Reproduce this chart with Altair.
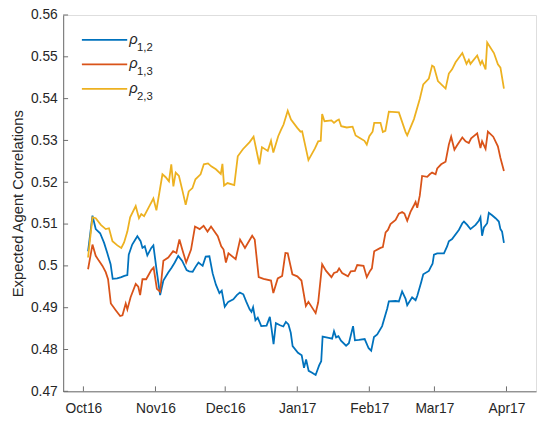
import altair as alt
import pandas as pd

# ---- data (day offset from 2016-10-01, value) ----
b_day = [2.0, 3.9, 5.3, 7.2, 8.9, 10.3, 11.7, 12.6, 14.5, 16.3, 17.6, 18.9, 19.5, 21.0, 23.2, 24.6, 25.4, 26.4, 27.5, 29.2,
         30.1, 31.6, 33.0, 34.4, 36.5, 38.0, 39.3, 40.8, 42.5, 44.4, 45.5, 47.0, 48.5, 49.5, 51.3, 52.6, 54.2, 55.6, 57.0, 58.5,
         59.5, 60.8, 62.3, 64.5, 66.0, 67.3, 68.8, 70.0, 71.5, 72.3, 73.0, 74.0, 75.0, 76.5, 78.8, 80.2, 81.0, 81.8, 82.8, 84.6,
         86.0, 87.1, 88.2, 89.2, 90.0, 92.3, 93.9, 94.9, 95.8, 96.9, 98.2, 99.9, 101.4, 102.3, 102.9, 105.5, 107.0, 107.8, 108.7, 109.7,
         110.8, 113.0, 114.2, 116.0, 116.8, 118.5, 121.0, 122.7, 123.8, 125.0, 126.4, 128.5, 130.7, 131.4, 134.3, 135.7, 137.1, 138.6, 139.3, 141.4,
         142.9, 143.6, 145.3, 146.2, 148.6, 149.3, 150.2, 150.8, 152.2, 155.1, 156.5, 157.2, 158.6, 161.5, 163.0, 163.7, 165.1, 166.5, 168.7, 170.1,
         170.8, 171.5, 172.3, 173.7, 174.4, 175.8, 177.3, 178.7, 179.4, 180.1, 180.9]
b_val = [0.5035, 0.5120, 0.5088, 0.5078, 0.5055, 0.5030, 0.5004, 0.4969, 0.4970, 0.4973, 0.4976, 0.4978, 0.5027, 0.5051, 0.5071, 0.5059, 0.5043, 0.5047, 0.5025, 0.5043,
         0.5049, 0.4985, 0.4930, 0.4965, 0.4984, 0.4996, 0.5008, 0.5024, 0.5012, 0.4990, 0.4987, 0.4986, 0.5000, 0.5008, 0.5000, 0.5022, 0.5023, 0.4982, 0.4955, 0.4935,
         0.4941, 0.4902, 0.4914, 0.4920, 0.4930, 0.4936, 0.4932, 0.4915, 0.4896, 0.4890, 0.4901, 0.4870, 0.4876, 0.4856, 0.4857, 0.4878, 0.4847, 0.4813, 0.4863, 0.4858,
         0.4855, 0.4866, 0.4860, 0.4840, 0.4808, 0.4792, 0.4786, 0.4756, 0.4776, 0.4749, 0.4745, 0.4739, 0.4762, 0.4772, 0.4831, 0.4828, 0.4826, 0.4844, 0.4829, 0.4832,
         0.4821, 0.4809, 0.4815, 0.4856, 0.4822, 0.4823, 0.4825, 0.4803, 0.4797, 0.4830, 0.4836, 0.4856, 0.4898, 0.4915, 0.4916, 0.4915, 0.4939, 0.4921, 0.4906, 0.4925,
         0.4918, 0.4928, 0.4961, 0.4980, 0.4988, 0.4996, 0.5005, 0.5027, 0.5030, 0.5030, 0.5047, 0.5059, 0.5064, 0.5086, 0.5102, 0.5106, 0.5098, 0.5088, 0.5098, 0.5108,
         0.5116, 0.5072, 0.5092, 0.5102, 0.5127, 0.5121, 0.5114, 0.5106, 0.5088, 0.5082, 0.5055]

r_day = [2.0, 3.9, 5.3, 6.7, 8.2, 9.6, 10.6, 11.8, 13.9, 15.8, 16.8, 18.2, 18.9, 20.3, 22.5, 23.6, 24.4, 25.4, 27.0, 29.2,
         30.2, 31.6, 33.0, 34.4, 36.5, 38.6, 40.0, 41.3, 42.5, 44.2, 46.3, 48.0, 50.0, 51.7, 53.4, 54.9, 57.8, 59.3, 60.3, 61.3,
         62.4, 65.5, 67.4, 69.5, 72.6, 73.7, 75.4, 77.5, 80.7, 81.7, 83.6, 85.5, 86.9, 87.9, 89.9, 92.0, 93.8, 95.7, 96.8, 99.9,
         101.0, 102.7, 104.4, 106.7, 107.8, 109.2, 110.0, 111.3, 113.8, 115.0, 116.8, 117.8, 120.5, 121.9, 123.3, 124.1, 125.1, 127.8, 128.8, 130.0,
         131.0, 132.1, 134.3, 135.7, 137.1, 138.1, 139.3, 140.7, 142.2, 142.9, 143.6, 144.7, 145.7, 147.9, 149.0, 150.0, 151.5, 152.2, 153.9, 155.8,
         157.2, 158.2, 159.6, 160.7, 163.0, 164.4, 165.8, 166.8, 169.4, 170.8, 171.5, 173.0, 174.0, 176.3, 178.3, 179.4, 180.9]
r_val = [0.4992, 0.5051, 0.5024, 0.5012, 0.5000, 0.4985, 0.4968, 0.4910, 0.4894, 0.4880, 0.4882, 0.4910, 0.4896, 0.4925, 0.4957, 0.4950, 0.4930, 0.4968, 0.4968, 0.4990,
         0.4996, 0.4945, 0.4938, 0.5012, 0.5020, 0.5035, 0.5031, 0.5063, 0.5040, 0.5008, 0.5039, 0.5094, 0.5088, 0.5096, 0.5082, 0.5094, 0.5071, 0.5047, 0.5039, 0.5008,
         0.5030, 0.5016, 0.5063, 0.5043, 0.5072, 0.5063, 0.4973, 0.4969, 0.4965, 0.4935, 0.4970, 0.4976, 0.5031, 0.5030, 0.4980, 0.4975, 0.4965, 0.4904, 0.4914, 0.4887,
         0.4913, 0.5004, 0.4988, 0.4973, 0.4983, 0.4986, 0.4994, 0.4983, 0.4975, 0.4987, 0.4988, 0.5002, 0.5000, 0.4973, 0.4988, 0.4994, 0.5035, 0.5043, 0.5045, 0.5080,
         0.5086, 0.5100, 0.5110, 0.5125, 0.5129, 0.5125, 0.5108, 0.5129, 0.5145, 0.5153, 0.5139, 0.5168, 0.5215, 0.5213, 0.5219, 0.5223, 0.5219, 0.5233, 0.5243, 0.5249,
         0.5290, 0.5309, 0.5278, 0.5288, 0.5307, 0.5298, 0.5294, 0.5305, 0.5317, 0.5282, 0.5298, 0.5280, 0.5321, 0.5309, 0.5286, 0.5258, 0.5227]

y_day = [2.0, 3.9, 5.3, 7.5, 9.6, 11.0, 12.5, 14.6, 16.3, 17.5, 18.9, 20.1, 22.5, 23.9, 24.9, 26.1, 28.2, 30.1, 31.4, 34.0,
         35.4, 36.8, 37.8, 38.7, 39.7, 41.1, 42.6, 44.0, 45.3, 46.9, 48.2, 50.4, 51.8, 53.6, 55.0, 57.0, 59.1, 59.8, 60.5, 62.0,
         64.9, 66.4, 68.6, 71.5, 73.2, 75.7, 76.8, 79.3, 80.7, 81.7, 83.8, 85.0, 86.1, 87.9, 89.3, 92.0, 93.4, 94.1, 96.8, 99.6,
         101.0, 102.1, 102.7, 103.7, 106.7, 107.8, 108.9, 109.9, 110.9, 113.3, 115.8, 117.1, 118.9, 120.9, 121.9, 123.0, 124.4, 125.1, 127.8, 128.8,
         129.9, 131.4, 135.7, 138.6, 139.3, 142.2, 144.7, 146.2, 148.6, 150.0, 150.8, 152.5, 155.8, 157.2, 158.6, 160.1, 163.0, 164.8, 165.8, 166.5,
         169.4, 170.8, 171.5, 173.0, 173.7, 176.6, 178.3, 179.4, 180.9]
y_val = [0.5020, 0.5116, 0.5114, 0.5098, 0.5088, 0.5090, 0.5059, 0.5049, 0.5043, 0.5056, 0.5082, 0.5116, 0.5143, 0.5114, 0.5124, 0.5119, 0.5141, 0.5161, 0.5133, 0.5219,
         0.5212, 0.5202, 0.5243, 0.5190, 0.5223, 0.5215, 0.5180, 0.5146, 0.5178, 0.5186, 0.5207, 0.5219, 0.5243, 0.5245, 0.5238, 0.5231, 0.5220, 0.5244, 0.5192, 0.5198,
         0.5193, 0.5262, 0.5279, 0.5296, 0.5309, 0.5243, 0.5284, 0.5275, 0.5299, 0.5271, 0.5310, 0.5325, 0.5338, 0.5371, 0.5350, 0.5330, 0.5321, 0.5322, 0.5253, 0.5281,
         0.5298, 0.5299, 0.5363, 0.5346, 0.5348, 0.5342, 0.5347, 0.5350, 0.5334, 0.5331, 0.5333, 0.5312, 0.5306, 0.5299, 0.5290, 0.5310, 0.5321, 0.5342, 0.5342, 0.5320,
         0.5323, 0.5369, 0.5367, 0.5320, 0.5312, 0.5351, 0.5399, 0.5434, 0.5448, 0.5479, 0.5476, 0.5442, 0.5424, 0.5460, 0.5470, 0.5487, 0.5509, 0.5483, 0.5493, 0.5483,
         0.5503, 0.5482, 0.5490, 0.5470, 0.5534, 0.5509, 0.5482, 0.5474, 0.5424]

series_names = ["rho12", "rho13", "rho23"]
series_subs = ["1,2", "1,3", "2,3"]
series_colors = ["#0072BD", "#D95319", "#EDB120"]
month_ticks = ["2016-10-01", "2016-11-01", "2016-12-01", "2017-01-01", "2017-02-01", "2017-03-01", "2017-04-01"]
y_ticks = [0.47, 0.48, 0.49, 0.50, 0.51, 0.52, 0.53, 0.54, 0.55, 0.56]
y_title = "Expected Agent Correlations"

# ---- build table ----
base = pd.Timestamp("2016-10-01")
def mk(days, vals, name):
    d = base + pd.to_timedelta(days, unit="D")
    return pd.DataFrame({"date": d.strftime("%Y-%m-%dT%H:%M:%SZ"), "value": vals, "series": name})

df = pd.concat([mk(b_day, b_val, series_names[0]),
                mk(r_day, r_val, series_names[1]),
                mk(y_day, y_val, series_names[2])], ignore_index=True)

W, H = 480, 382
FONT = "Liberation Sans"
TXT = "#262626"
AX = "#6e6e6e"

def dt(s, hours=0):
    t = pd.Timestamp(s)
    return alt.DateTime(year=t.year, month=t.month, date=t.day, hours=hours, utc=True)

xscale = alt.Scale(type="utc", domain=[dt("2016-09-22", 7), dt("2017-04-13", 17)])
yscale = alt.Scale(domain=[0.47, 0.56], nice=False, zero=False)

xaxis = alt.Axis(values=[dt(m) for m in month_ticks], format="%b%y", title=None,
                 ticks=False, tickSize=0, labelPadding=11, labelFontSize=14, labelFont=FONT,
                 labelColor=TXT, domainColor=AX, domainWidth=1, grid=False, labelFlush=False)
yaxis = alt.Axis(values=y_ticks, format=".2~f", title=y_title,
                 ticks=False, tickSize=0, labelPadding=6, labelFontSize=14, labelFont=FONT,
                 labelColor=TXT, domainColor=AX, domainWidth=1, grid=False,
                 titleFont=FONT, titleFontSize=15, titleFontWeight="normal", titleColor=TXT,
                 titlePadding=5, labelFlush=False)

lines = alt.Chart(df).mark_line(strokeWidth=1.8, clip=True).encode(
    x=alt.X("date:T", scale=xscale, axis=xaxis),
    y=alt.Y("value:Q", scale=yscale, axis=yaxis),
    color=alt.Color("series:N", scale=alt.Scale(domain=series_names, range=series_colors), legend=None),
    detail="series:N",
)

xt = pd.DataFrame({"date": [m + "T00:00:00Z" for m in month_ticks]})
xticks = alt.Chart(xt).mark_rule(color=AX, strokeWidth=1).encode(
    x=alt.X("date:T", scale=xscale, axis=xaxis),
    y=alt.value(H), y2=alt.value(H - 5),
)
yt = pd.DataFrame({"value": y_ticks})
yticks = alt.Chart(yt).mark_rule(color=AX, strokeWidth=1).encode(
    y=alt.Y("value:Q", scale=yscale, axis=yaxis),
    x=alt.value(0), x2=alt.value(5),
)

layers = [lines, xticks, yticks]
for i, (sub, col) in enumerate(zip(series_subs, series_colors)):
    row = 25.3 + 24.9 * i
    d = alt.Data(values=[{"rho": "\u03c1", "sub": sub}])
    layers.append(alt.Chart(d).mark_rule(color=col, strokeWidth=1.8).encode(
        x=alt.value(19), x2=alt.value(65), y=alt.value(row)))
    layers.append(alt.Chart(d).mark_text(font=FONT, fontSize=15, fontStyle="italic", color=TXT,
                                         align="left", baseline="alphabetic").encode(
        x=alt.value(67), y=alt.value(row + 4), text="rho:N"))
    layers.append(alt.Chart(d).mark_text(font=FONT, fontSize=11.5, color=TXT,
                                         align="left", baseline="alphabetic").encode(
        x=alt.value(75), y=alt.value(row + 11), text="sub:N"))

chart = alt.layer(*layers).properties(
    width=W, height=H,
    autosize=alt.AutoSizeParams(type="none"),
    padding={"left": 56, "top": 4, "right": 2, "bottom": 25},
).configure_view(stroke=None).configure(background="white")

chart.save("out.html", embed_options={"renderer": "svg", "actions": False})
